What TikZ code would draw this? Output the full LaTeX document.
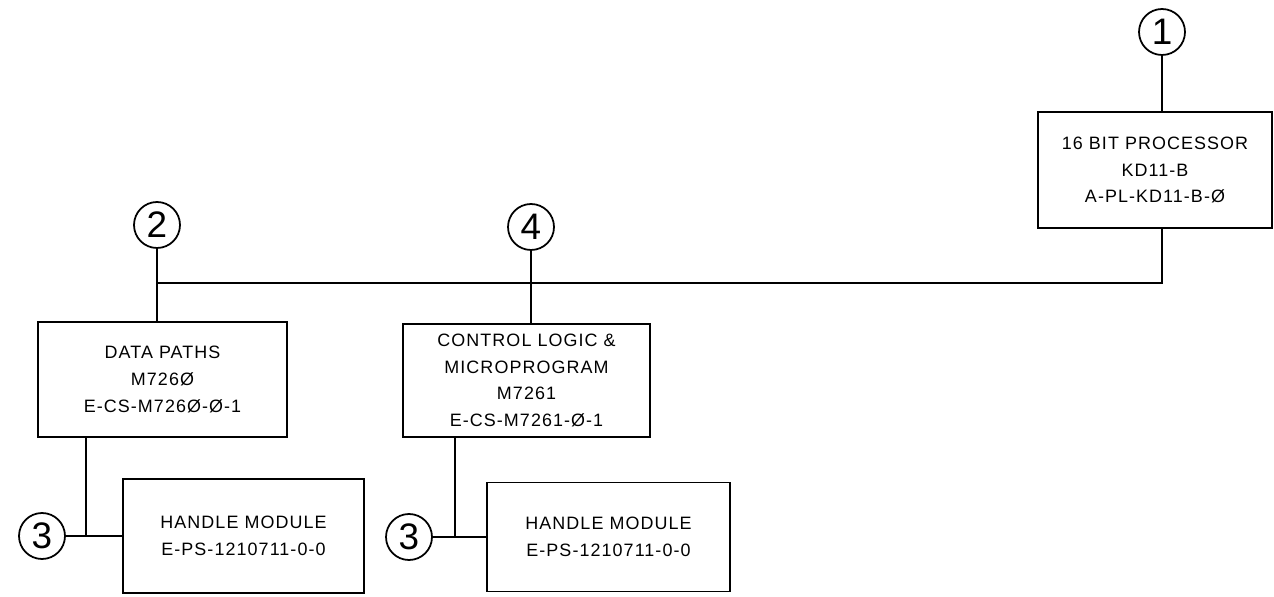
\documentclass[tikz,border=0pt]{standalone}
\usepackage{fontspec}
\setmainfont{Liberation Sans}[LetterSpace=6]
\begin{document}
\begin{tikzpicture}[x=0.02cm, y=-0.02cm, line width=1pt,
  font=\fontsize{10.2}{15.3}\selectfont,
  blk/.style={draw, align=center, inner sep=0pt},
  num/.style={draw, circle, minimum size=0.92cm, inner sep=0pt, font=\fontsize{21}{21}\selectfont}]
\useasboundingbox (0,0) rectangle (1274,597);
% numbered callouts
\node[num] (n1) at (1162,32) {1};
\node[num] (n2) at (157,225) {2};
\node[num] (n4) at (531,227) {4};
\node[num] (n3a) at (42,536) {3};
\node[num] (n3b) at (409,537) {3};
% modules
\node[blk, minimum width=4.68cm, minimum height=2.32cm] (proc) at (1155,170) {16 BIT PROCESSOR\\KD11-B\\A-PL-KD11-B-Ø};
\node[blk, minimum width=4.98cm, minimum height=2.30cm] (dp) at (162.5,379.5) {DATA PATHS\\M726Ø\\E-CS-M726Ø-Ø-1};
\node[blk, minimum width=4.94cm, minimum height=2.26cm] (ctl) at (526.5,380.5) {CONTROL LOGIC \&\\MICROPROGRAM\\M7261\\E-CS-M7261-Ø-1};
\node[blk, minimum width=4.82cm, minimum height=2.28cm] (hm1) at (243.5,536) {HANDLE MODULE\\E-PS-1210711-0-0};
\node[blk, minimum width=4.86cm, minimum height=2.18cm] (hm2) at (608.5,537) {HANDLE MODULE\\E-PS-1210711-0-0};
% bus
\coordinate (busL) at (157,283);
\coordinate (busR) at (1162,283);
\coordinate (tapA) at (86,536);
\coordinate (tapB) at (455,537);
\draw (n1) -- (n1 |- proc.north);
\draw (proc.south -| n1) -- (busR) -- (busL);
\draw (n2) -- (n2 |- dp.north);
\draw (n4) -- (n4 |- ctl.north);
\draw (dp.south -| tapA) -- (tapA);
\draw (n3a) -- (hm1);
\draw (ctl.south -| tapB) -- (tapB);
\draw (n3b) -- (hm2);
\end{tikzpicture}
\end{document}
